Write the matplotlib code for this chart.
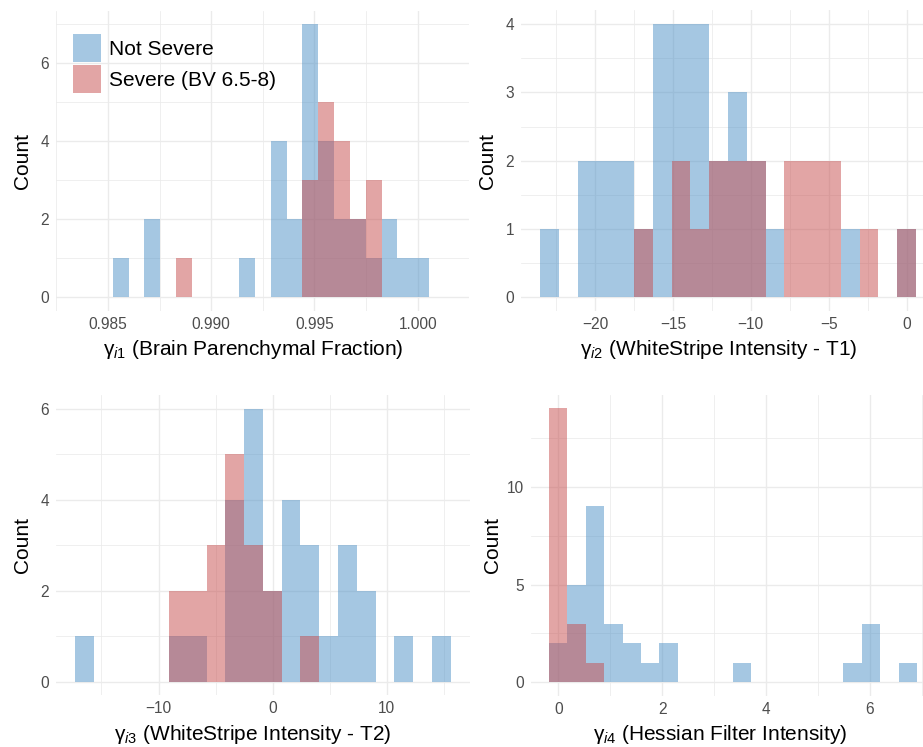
import numpy as np
import matplotlib
matplotlib.use("Agg")
import matplotlib.pyplot as plt
from matplotlib.patches import Patch

plt.rcParams['font.family'] = ['Liberation Sans', 'DejaVu Sans']
plt.rcParams['mathtext.fontset'] = 'custom'
plt.rcParams['mathtext.rm'] = 'Liberation Sans'
plt.rcParams['mathtext.it'] = 'Liberation Sans:italic'

# histogram data (20 bins per panel, counts)
n_bins = 20
labels = ['Not Severe', 'Severe (BV 6.5-8)']

bpf_start, bpf_width = 0.98524, 0.000765
bpf_not = [1, 0, 2, 0, 0, 0, 0, 0, 1, 0, 4, 2, 7, 4, 2, 2, 1, 2, 1, 1]
bpf_sev = [0, 0, 0, 0, 1, 0, 0, 0, 0, 0, 0, 0, 3, 5, 4, 2, 3, 0, 0, 0]

t1_start, t1_width = -23.53, 1.207
t1_not = [1, 0, 2, 2, 2, 1, 4, 4, 4, 2, 3, 2, 1, 0, 0, 0, 1, 0, 0, 1]
t1_sev = [0, 0, 0, 0, 0, 1, 0, 2, 1, 2, 2, 2, 0, 2, 2, 2, 0, 1, 0, 1]

t2_start, t2_width = -17.31, 1.645
t2_not = [1, 0, 0, 0, 0, 1, 1, 0, 4, 6, 2, 4, 3, 1, 3, 2, 0, 1, 0, 1]
t2_sev = [0, 0, 0, 0, 0, 2, 2, 3, 5, 3, 2, 0, 1, 0, 0, 0, 0, 0, 0, 0]

hes_start, hes_width = -0.18, 0.3543
hes_not = [2, 5, 9, 3, 2, 1, 2, 0, 0, 0, 1, 0, 0, 0, 0, 0, 1, 3, 0, 1]
hes_sev = [14, 3, 1, 0, 0, 0, 0, 0, 0, 0, 0, 0, 0, 0, 0, 0, 0, 0, 0, 0]

panels = [
    dict(start=bpf_start, width=bpf_width, a=bpf_not, b=bpf_sev,
         xlabel=r'$\mathrm{γ}_{\mathit{i}\mathrm{1}}$ (Brain Parenchymal Fraction)',
         xmaj=[0.985, 0.990, 0.995, 1.000], xmin=[0.9825, 0.9875, 0.9925, 0.9975, 1.0025],
         xfmt='{:.3f}', ymaj=[0, 2, 4, 6], ymin=[1, 3, 5, 7],
         pos=[0.0609, 0.5837, 0.4477, 0.4020], xlab=(0.478, -0.090), ypad=6, legend=True),
    dict(start=t1_start, width=t1_width, a=t1_not, b=t1_sev,
         xlabel=r'$\mathrm{γ}_{\mathit{i}\mathrm{2}}$ (WhiteStripe Intensity - T1)',
         xmaj=[-20, -15, -10, -5, 0], xmin=[-22.5, -17.5, -12.5, -7.5, -2.5],
         xfmt='{:d}', ymaj=[0, 1, 2, 3, 4], ymin=[0.5, 1.5, 2.5, 3.5],
         pos=[0.5647, 0.5837, 0.4482, 0.4024], xlab=(0.478, -0.090), ypad=6, legend=False),
    dict(start=t2_start, width=t2_width, a=t2_not, b=t2_sev,
         xlabel=r'$\mathrm{γ}_{\mathit{i}\mathrm{3}}$ (WhiteStripe Intensity - T2)',
         xmaj=[-10, 0, 10], xmin=[-15, -5, 5, 15],
         xfmt='{:d}', ymaj=[0, 2, 4, 6], ymin=[1, 3, 5],
         pos=[0.0610, 0.0692, 0.4477, 0.4015], xlab=(0.476, -0.093), ypad=6, legend=False),
    dict(start=hes_start, width=hes_width, a=hes_not, b=hes_sev,
         xlabel=r'$\mathrm{γ}_{\mathit{i}\mathrm{4}}$ (Hessian Filter Intensity)',
         xmaj=[0, 2, 4, 6], xmin=[1, 3, 5, 7],
         xfmt='{:d}', ymaj=[0, 5, 10], ymin=[2.5, 7.5, 12.5],
         pos=[0.5749, 0.0683, 0.4385, 0.4032], xlab=(0.468, -0.091), ypad=3, legend=False),
]

blue = '#4D91C7'
red = '#C74D4D'
grid_col = '#EBEBEB'

fig = plt.figure(figsize=(9.23, 7.47), dpi=100)

for p in panels:
    ax = fig.add_axes(p['pos'])
    edges = p['start'] + p['width'] * np.arange(n_bins + 1)
    centers = (edges[:-1] + edges[1:]) / 2
    ax.hist(centers, bins=edges, weights=p['a'], color=blue, alpha=0.5, linewidth=0)
    ax.hist(centers, bins=edges, weights=p['b'], color=red, alpha=0.5, linewidth=0)

    # ggplot style 5% expansion
    pad = 0.05 * (edges[-1] - edges[0])
    ax.set_xlim(edges[0] - pad, edges[-1] + pad)
    ymax = max(max(p['a']), max(p['b']))
    ax.set_ylim(-0.05 * ymax, 1.05 * ymax)

    ax.set_xticks(p['xmaj'])
    ax.set_xticklabels([p['xfmt'].format(v).replace('-', '\u2212') for v in p['xmaj']])
    ax.set_xticks(p['xmin'], minor=True)
    ax.set_yticks(p['ymaj'])
    ax.set_yticks(p['ymin'], minor=True)

    ax.set_axisbelow(True)
    ax.grid(True, which='major', color=grid_col, linewidth=1.0)
    ax.grid(True, which='minor', color=grid_col, linewidth=0.55)
    for s in ax.spines.values():
        s.set_visible(False)
    ax.tick_params(which='both', length=0)
    ax.tick_params(axis='x', labelsize=11.2, labelcolor='#4D4D4D', pad=4)
    ax.tick_params(axis='y', labelsize=11.2, labelcolor='#4D4D4D', pad=5)

    ax.set_xlabel(p['xlabel'], fontsize=15, color='black')
    ax.xaxis.set_label_coords(*p['xlab'])
    ax.set_ylabel('Count', fontsize=15, color='black', labelpad=p['ypad'])

    if p['legend']:
        handles = [Patch(facecolor=blue, alpha=0.5, linewidth=0),
                   Patch(facecolor=red, alpha=0.5, linewidth=0)]
        ax.legend(handles, labels, loc='upper left', bbox_to_anchor=(0.0407, 0.922),
                  frameon=False, fontsize=15, borderpad=0, borderaxespad=0,
                  handlelength=1.344, handleheight=1.69, handletextpad=0.4,
                  labelspacing=0.144)

fig.savefig('out.png', dpi=100)
